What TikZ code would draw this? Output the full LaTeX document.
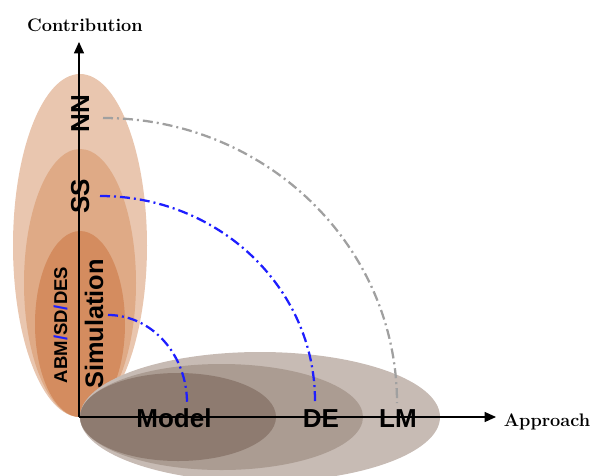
\documentclass[tikz,border=0pt]{standalone}
\usepackage{fontspec}
\newfontfamily\lsans{Liberation Sans}
\usetikzlibrary{arrows.meta}
\definecolor{orA}{RGB}{233,198,175}
\definecolor{orB}{RGB}{223,170,134}
\definecolor{orC}{RGB}{212,140,95}
\definecolor{brA}{RGB}{199,187,180}
\definecolor{brB}{RGB}{171,156,146}
\definecolor{brC}{RGB}{142,123,112}
\definecolor{arcblue}{RGB}{30,30,255}
\definecolor{arcgray}{RGB}{160,160,160}
\begin{document}
\begin{tikzpicture}[x=0.75pt,y=-0.75pt,
  lab/.style={font=\lsans\bfseries\fontsize{19.5}{20}\selectfont, inner sep=0pt, anchor=base},
  vlab/.style={lab, rotate=90},
  axlab/.style={font=\bfseries\fontsize{13.6}{14}\selectfont, inner sep=0pt, anchor=base},
  axisline/.style={line width=0.8pt, -{Triangle[length=8.5pt,width=7.5pt]}},
  arcline/.style={line width=1.7pt, dash pattern=on 7.5pt off 3pt on 1.5pt off 3pt},
]
\useasboundingbox (0,0) rectangle (592,475);
\begin{scope}
\clip (0,0) rectangle (592,475);
\fill[orA] (80,245.5) ellipse [x radius=67, y radius=171.5];
\fill[orB] (80,283) ellipse [x radius=56, y radius=134];
\fill[orC] (80,324) ellipse [x radius=45, y radius=93];
\fill[brA] (260,417) ellipse [x radius=180, y radius=65];
\fill[brB] (221.5,417) ellipse [x radius=141.5, y radius=53];
\fill[brC] (178,417) ellipse [x radius=98, y radius=44];
\end{scope}
% arcs
\coordinate (gs) at (103,118);
\coordinate (ge) at (397,403);
\coordinate (bs) at (100,196);
\coordinate (be) at (315,401);
\coordinate (ss) at (108,315);
\coordinate (se) at (187,403);
\draw[arcline, arcgray] (gs) .. controls +(162.4,0) and +(0,-157.4) .. (ge);
\draw[arcline, arcblue] (bs) .. controls +(118.7,0) and +(0,-113.2) .. (be);
\draw[arcline, arcblue] (ss) .. controls +(43.6,0) and +(0,-48.6) .. (se);
% axes
\coordinate (O) at (79,417);
\coordinate (ytip) at (79,42);
\coordinate (xtip) at (496,417);
\draw[axisline] (O) -- (ytip);
\draw[axisline] (O) -- (xtip);
% labels
\node[vlab] (NN) at (89,113.5) {NN};
\node[vlab] (SS) at (89,196) {SS};
\node[vlab, font=\lsans\bfseries\fontsize{19}{20}\selectfont] (sim) at (103,324) {Simulation};
\node[vlab, font=\lsans\bfseries\fontsize{13.9}{15}\selectfont] (abm) at (67,325) {ABM{\color{arcblue}/}SD{\color{arcblue}/}DES};
\node[lab] (model) at (174,427) {Model};
\node[lab] (DE) at (321,427) {DE};
\node[lab] (LM) at (398,427) {LM};
\node[axlab] (contrib) at (85,31) {Contribution};
\node[axlab] (appr) at (547,426) {Approach};
\end{tikzpicture}
\end{document}
